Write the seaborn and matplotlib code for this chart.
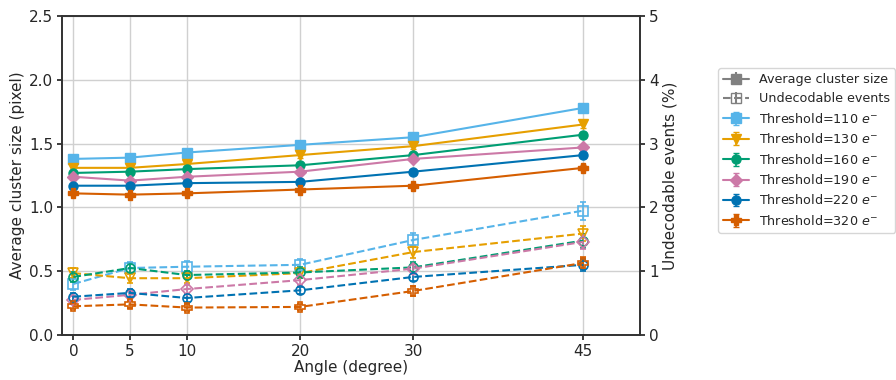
import numpy as np
import pandas as pd
import matplotlib
matplotlib.use("Agg")
import matplotlib.pyplot as plt
import seaborn as sns

# Incidence angles (degree)
angles = [0, 5, 10, 20, 30, 45]
thresholds = [110, 130, 160, 190, 220, 320]

# Average cluster size (pixel) per threshold
size_110 = [1.38, 1.39, 1.43, 1.49, 1.55, 1.78]
size_130 = [1.31, 1.31, 1.34, 1.41, 1.48, 1.65]
size_160 = [1.27, 1.28, 1.30, 1.33, 1.41, 1.57]
size_190 = [1.24, 1.21, 1.24, 1.28, 1.38, 1.47]
size_220 = [1.17, 1.17, 1.19, 1.20, 1.28, 1.41]
size_320 = [1.11, 1.10, 1.11, 1.14, 1.17, 1.31]

size_err_110 = [0.02, 0.02, 0.02, 0.02, 0.02, 0.03]
size_err_130 = [0.02, 0.02, 0.02, 0.02, 0.02, 0.03]
size_err_160 = [0.01, 0.01, 0.01, 0.01, 0.02, 0.02]
size_err_190 = [0.01, 0.01, 0.01, 0.01, 0.02, 0.02]
size_err_220 = [0.01, 0.01, 0.01, 0.01, 0.01, 0.02]
size_err_320 = [0.01, 0.01, 0.01, 0.01, 0.01, 0.02]

# Undecodable events (%) per threshold
undec_110 = [0.80, 1.05, 1.07, 1.10, 1.49, 1.95]
undec_130 = [0.97, 0.89, 0.89, 0.97, 1.30, 1.59]
undec_160 = [0.91, 1.05, 0.94, 0.98, 1.06, 1.48]
undec_190 = [0.55, 0.63, 0.72, 0.86, 1.04, 1.46]
undec_220 = [0.60, 0.66, 0.58, 0.70, 0.91, 1.10]
undec_320 = [0.45, 0.48, 0.43, 0.44, 0.69, 1.13]

undec_err_110 = [0.09, 0.09, 0.09, 0.09, 0.11, 0.14]
undec_err_130 = [0.08, 0.07, 0.07, 0.08, 0.10, 0.12]
undec_err_160 = [0.08, 0.08, 0.07, 0.08, 0.08, 0.11]
undec_err_190 = [0.06, 0.06, 0.07, 0.07, 0.08, 0.11]
undec_err_220 = [0.06, 0.06, 0.06, 0.06, 0.07, 0.09]
undec_err_320 = [0.05, 0.06, 0.05, 0.05, 0.08, 0.10]

sizes = [size_110, size_130, size_160, size_190, size_220, size_320]
size_errs = [size_err_110, size_err_130, size_err_160, size_err_190, size_err_220, size_err_320]
undecs = [undec_110, undec_130, undec_160, undec_190, undec_220, undec_320]
undec_errs = [undec_err_110, undec_err_130, undec_err_160, undec_err_190, undec_err_220, undec_err_320]

sns.set_theme(style="ticks", rc={"axes.grid": True, "grid.color": "#d0d0d0",
                                  "axes.edgecolor": "#333333",
                                  "xtick.major.size": 3.5, "ytick.major.size": 3.5,
                                  "xtick.major.pad": 3, "ytick.major.pad": 3})
plt.rcParams["font.family"] = ["DejaVu Sans"]

# Okabe-Ito colours, one per threshold
colors = sns.color_palette(["#56B4E9", "#E69F00", "#009E73", "#CC79A7", "#0072B2", "#D55E00"])
markers = ["s", "v", "o", "D", "o", "P"]
msizes = [6.5, 6.5, 6.5, 6.5, 6.5, 6.5]

fig = plt.figure(figsize=(8.96, 3.8), dpi=100)
ax = fig.add_axes([62 / 896, 1 - 335 / 380, (640 - 62) / 896, (335 - 16) / 380])
ax2 = ax.twinx()
ax2.grid(False)

handles = []
labels = []
for th, y, ye, c, m, ms in zip(thresholds, sizes, size_errs, colors, markers, msizes):
    h = ax.errorbar(angles, y, yerr=ye, fmt=m + "-", color=c, ms=ms, lw=1.5,
                    capsize=2, elinewidth=1.2)
    handles.append(h)
    labels.append(rf"Threshold={th} $e^{{-}}$")

for th, y, ye, c, m, ms in zip(thresholds, undecs, undec_errs, colors, markers, msizes):
    ax2.errorbar(angles, y, yerr=ye, fmt=m + "--", color=c, ms=ms, lw=1.5,
                 mfc="none", mew=1.2, capsize=2, elinewidth=1.2)

# Grey style keys for the two quantities
h_avg = ax.errorbar([], [], yerr=[], fmt="s-", color="gray", ms=6.5, lw=1.5, capsize=2)
h_und = ax.errorbar([], [], yerr=[], fmt="s--", color="gray", ms=6.5, lw=1.5,
                    mfc="none", capsize=2)

ax.set_xlim(-1, 50)
ax.set_ylim(0, 2.5)
ax2.set_ylim(0, 5)
ax.set_xticks(angles)
ax.set_yticks([0, 0.5, 1.0, 1.5, 2.0, 2.5])
ax2.set_yticks([0, 1, 2, 3, 4, 5])
ax.tick_params(labelsize=11)
ax2.tick_params(labelsize=11)
ax.set_xlabel("Angle (degree)", fontsize=11, labelpad=1)
ax.set_ylabel("Average cluster size (pixel)", fontsize=11, labelpad=3)
ax2.set_ylabel("Undecodable events (%)", fontsize=11, labelpad=3)

fig.legend([h_avg, h_und] + handles,
           ["Average cluster size", "Undecodable events"] + labels,
           loc="upper left", bbox_to_anchor=(718 / 896, 1 - 68 / 380),
           fontsize=9.2, frameon=True, handlelength=2, borderaxespad=0,
           borderpad=0.4)

fig.savefig("out.png", dpi=100)
